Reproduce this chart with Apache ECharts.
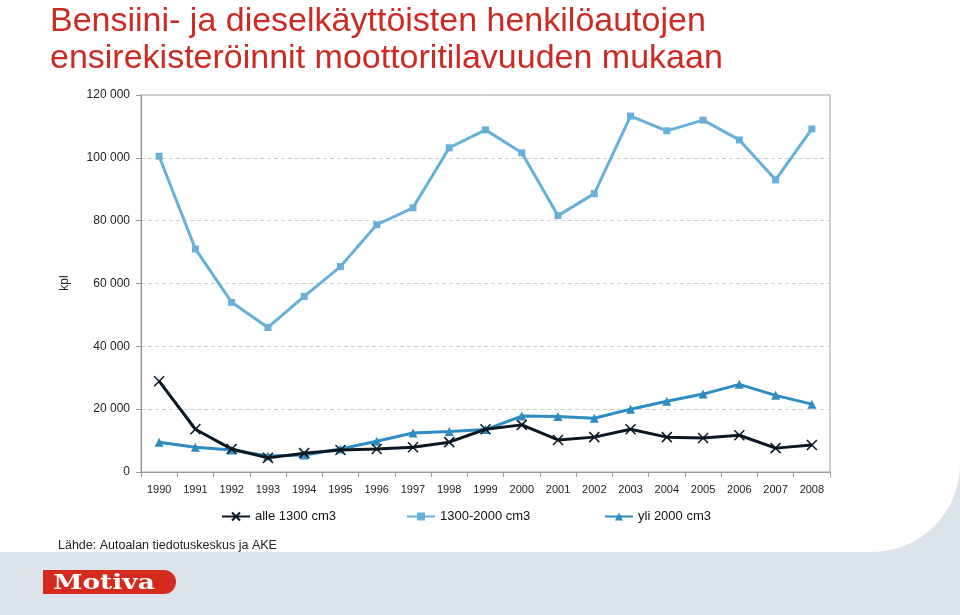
<!DOCTYPE html>
<html><head><meta charset="utf-8">
<script src="https://cdn.jsdelivr.net/npm/echarts@6/dist/echarts.min.js"></script>
<style>html,body{margin:0;padding:0;background:#dce3ea;}#c{width:960px;height:615px;}</style>
</head><body><div id="c"></div>
<script>
const years = ['1990','1991','1992','1993','1994','1995','1996','1997','1998','1999','2000','2001','2002','2003','2004','2005','2006','2007','2008'];
const alle1300 = [28900, 13600, 7300, 4500, 6000, 7000, 7300, 7900, 9500, 13600, 15000, 10200, 11100, 13600, 11100, 10800, 11700, 7600, 8600];
const mid1300_2000 = [100500, 71000, 54000, 46000, 55900, 65400, 78700, 84100, 103200, 108900, 101600, 81600, 88600, 113300, 108600, 112000, 105700, 93000, 109200];
const yli2000 = [9500, 7900, 7000, 5100, 5400, 7300, 9800, 12400, 12900, 13500, 17800, 17700, 17100, 20000, 22500, 24800, 27900, 24400, 21600];
const seriesNames = ['alle 1300 cm3', '1300-2000 cm3', 'yli 2000 cm3'];
const titleText = 'Bensiini- ja dieselkäyttöisten henkilöautojen\nensirekisteröinnit moottoritilavuuden mukaan';
const sourceText = 'Lähde: Autoalan tiedotuskeskus ja AKE';

const F = 'Liberation Sans, Arial, sans-serif';
const cBlack = '#0b1824', cLight = '#67b0da', cBlue = '#2f8cc0';
const xPath = 'path://M0,0L10,10M10,0L0,10';

const chart = echarts.init(document.getElementById('c'), null, {renderer: 'canvas'});
chart.setOption({
  backgroundColor: '#dce3ea',
  animation: false,
  graphic: [
    {type: 'rect', z: -10, left: 0, top: 0, shape: {width: 960, height: 552, r: [0, 0, 88, 0]}, style: {fill: '#ffffff'}},
    {type: 'rect', left: 43, top: 570, shape: {width: 133, height: 24, r: [0, 12, 12, 0]}, style: {fill: '#d52b1e'}},
    {type: 'text', x: 104, y: 584, scaleX: 1.32, style: {text: 'Motiva', fill: '#ffffff', font: 'bold 20px "DejaVu Serif", serif', align: 'center', verticalAlign: 'middle'}},
    {type: 'text', left: 58, top: 539, style: {text: sourceText, fill: '#222', font: '12.5px ' + F}},
    {type: 'text', x: 65, y: 283, rotation: Math.PI/2, style: {text: 'kpl', fill: '#222', font: '12px ' + F, align: 'center', verticalAlign: 'middle'}}
  ],
  title: {
    text: titleText, left: 45, top: -2,
    textStyle: {color: '#cc2a22', fontSize: 34, fontWeight: 'normal', fontFamily: F, lineHeight: 37}
  },
  legend: [
    {data: [seriesNames[0]], left: 216, top: 505, itemWidth: 28, itemHeight: 10, itemGap: 0, textStyle: {fontSize: 13, fontFamily: F, color: '#111'}},
    {data: [seriesNames[1]], left: 401, top: 505, itemWidth: 28, itemHeight: 10, itemGap: 0, textStyle: {fontSize: 13, fontFamily: F, color: '#111'}},
    {data: [seriesNames[2]], left: 599, top: 505, itemWidth: 28, itemHeight: 10, itemGap: 0, textStyle: {fontSize: 13, fontFamily: F, color: '#111'}}
  ],
  grid: {left: 141, right: 130, top: 95, bottom: 143, show: true, borderColor: '#a0a0a0', borderWidth: 1, backgroundColor: 'transparent'},
  xAxis: {
    type: 'category', data: years, boundaryGap: true,
    axisLine: {lineStyle: {color: '#999', width: 1}},
    axisTick: {show: true, length: 5, lineStyle: {color: '#999'}},
    axisLabel: {color: '#222', fontSize: 11, fontFamily: F, margin: 12}
  },
  yAxis: {
    type: 'value', min: 0, max: 120000, interval: 20000,
    axisLine: {show: true, lineStyle: {color: '#999'}},
    axisTick: {show: true, length: 5, lineStyle: {color: '#999'}},
    axisLabel: {color: '#222', fontSize: 12, fontFamily: F, margin: 11,
      formatter: v => v === 0 ? '0' : String(v).replace(/\B(?=(\d{3})+(?!\d))/g, ' ')},
    splitLine: {show: true, showMinLine: false, showMaxLine: false, lineStyle: {color: '#cfcfcf', type: [4, 3]}}
  },
  series: [
    {name: seriesNames[0], type: 'line', data: alle1300, symbol: xPath, symbolSize: 10,
      lineStyle: {color: cBlack, width: 3}, itemStyle: {color: 'transparent', borderColor: cBlack, borderWidth: 1.5}, z: 3},
    {name: seriesNames[1], type: 'line', data: mid1300_2000, symbol: 'rect', symbolSize: 7,
      lineStyle: {color: cLight, width: 3}, itemStyle: {color: cLight, borderWidth: 0}},
    {name: seriesNames[2], type: 'line', data: yli2000, symbol: 'triangle', symbolSize: 9,
      lineStyle: {color: cBlue, width: 3}, itemStyle: {color: cBlue, borderWidth: 0}, z: 2}
  ]
});
</script>
</body></html>
